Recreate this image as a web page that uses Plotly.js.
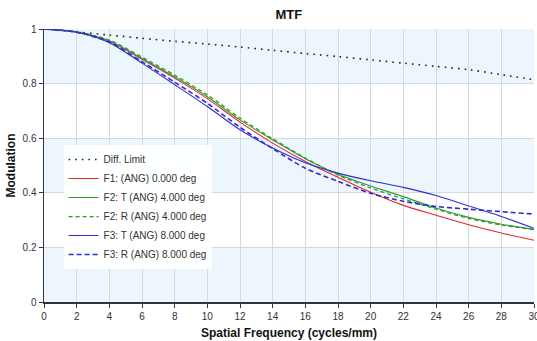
<!DOCTYPE html>
<html>
<head>
<meta charset="utf-8">
<script src="https://cdn.plot.ly/plotly-3.0.1.min.js"></script>
<style>html,body{margin:0;padding:0;background:#fff}#chart{width:537px;height:341px}</style>
</head>
<body>
<div id="chart"></div>
<script>
const freq = [0, 2, 4, 6, 8, 10, 12, 14, 16, 18, 20, 22, 24, 26, 28, 30];
const diffLimit = [1, 0.989, 0.978, 0.966, 0.955, 0.945, 0.934, 0.922, 0.910, 0.899, 0.887, 0.875, 0.863, 0.851, 0.833, 0.814];
const f1 = [1, 0.989, 0.955, 0.889, 0.820, 0.745, 0.659, 0.582, 0.515, 0.457, 0.402, 0.354, 0.318, 0.283, 0.253, 0.226];
const f2T = [1, 0.989, 0.957, 0.892, 0.825, 0.752, 0.667, 0.594, 0.525, 0.468, 0.425, 0.386, 0.344, 0.310, 0.285, 0.266];
const f2R = [1, 0.990, 0.959, 0.897, 0.831, 0.759, 0.674, 0.598, 0.527, 0.465, 0.418, 0.378, 0.340, 0.306, 0.282, 0.265];
const f3T = [1, 0.988, 0.950, 0.875, 0.796, 0.716, 0.631, 0.564, 0.510, 0.472, 0.444, 0.420, 0.390, 0.352, 0.313, 0.270];
const f3R = [1, 0.988, 0.952, 0.880, 0.805, 0.728, 0.640, 0.562, 0.490, 0.442, 0.398, 0.369, 0.350, 0.340, 0.331, 0.322];
const seriesNames = ["Diff. Limit", "F1: (ANG) 0.000 deg", "F2: T (ANG) 4.000 deg", "F2: R (ANG) 4.000 deg", "F3: T (ANG) 8.000 deg", "F3: R (ANG) 8.000 deg"];
const bandEdges = [0, 0.2, 0.4, 0.6, 0.8, 1];

const font = "Arial, 'Liberation Sans', sans-serif";
function tr(y, name, color, dash, width) {
  return {x: freq, y: y, name: name, type: 'scatter', mode: 'lines',
    line: {color: color, dash: dash, width: width, shape: 'spline', smoothing: 0.8}};
}
const data = [
  tr(diffLimit, seriesNames[0], '#222222', '1.6px,5px', 1.6),
  tr(f1, seriesNames[1], '#e8262a', 'solid', 1.1),
  tr(f2T, seriesNames[2], '#2e9a2e', 'solid', 1.1),
  tr(f2R, seriesNames[3], '#2e9a2e', '4px,3px', 1.3),
  tr(f3T, seriesNames[4], '#2d2dd6', 'solid', 1.1),
  tr(f3R, seriesNames[5], '#2d2dd6', '5px,3px', 1.6)
];
const shapes = [];
for (let i = 0; i < bandEdges.length - 1; i += 2) {
  shapes.push({type: 'rect', xref: 'paper', yref: 'y', x0: 0, x1: 1,
    y0: bandEdges[i], y1: bandEdges[i + 1], fillcolor: '#edf5fd', line: {width: 0}, layer: 'below'});
}
const layout = {
  width: 537, height: 341,
  margin: {l: 44, r: 3, t: 29, b: 39},
  paper_bgcolor: '#ffffff', plot_bgcolor: '#ffffff',
  font: {family: font, size: 10, color: '#333333'},
  title: {text: '<b>MTF</b>', font: {family: font, size: 13, color: '#111111'}, x: 0.538, xanchor: 'center', y: 0.958, yanchor: 'middle'},
  xaxis: {range: [0, 30], dtick: 2, tick0: 0, showgrid: true, gridcolor: '#d5d9de', gridwidth: 1,
    showline: true, linecolor: '#333333', linewidth: 1.5, ticks: 'outside', ticklen: 4, tickcolor: '#333333',
    zeroline: false, tickfont: {size: 10, color: '#333333'}, ticklabeloverflow: 'allow',
    title: {text: '<b>Spatial Frequency (cycles/mm)</b>', font: {family: font, size: 12, color: '#111111'}, standoff: 8}},
  yaxis: {range: [0, 1], dtick: 0.2, tick0: 0, showgrid: true, gridcolor: '#d5d9de', gridwidth: 1,
    showline: true, linecolor: '#333333', linewidth: 1.5, ticks: 'outside', ticklen: 4, tickcolor: '#333333',
    zeroline: false, tickfont: {size: 10, color: '#333333'},
    title: {text: '<b>Modulation</b>', font: {family: font, size: 12, color: '#111111'}, standoff: 4}},
  shapes: shapes,
  showlegend: true,
  legend: {x: 0.04, y: 0.575, xanchor: 'left', yanchor: 'top', bgcolor: 'rgba(255,255,255,0.95)',
    borderwidth: 0, font: {family: font, size: 10, color: '#333333'}, itemwidth: 30, tracegroupgap: 0}
};
Plotly.newPlot('chart', data, layout, {staticPlot: true, displayModeBar: false});
</script>
</body>
</html>
